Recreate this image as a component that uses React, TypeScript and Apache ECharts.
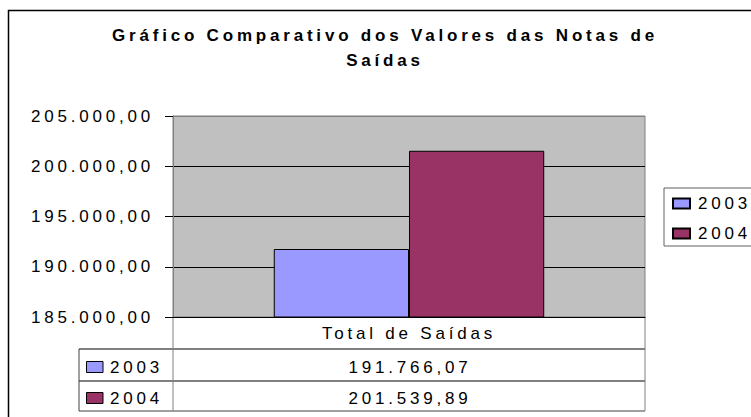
import React, { useEffect, useRef } from "react";
import * as echarts from "echarts";

const titleText = "Gráfico Comparativo dos Valores das Notas de\nSaídas";
const categories = ["Total de Saídas"];
const seriesNames = ["2003", "2004"];
const values2003 = [191766.07];
const values2004 = [201539.89];
const yMin = 185000;
const yMax = 205000;
const yInterval = 5000;
const seriesColors = ["#9999FF", "#993366"];

const FONT = '"Liberation Sans", Arial, sans-serif';

function fmtBR(v: number): string {
  const [i, d] = Math.abs(v).toFixed(2).split(".");
  return (v < 0 ? "-" : "") + i.replace(/\B(?=(\d{3})+(?!\d))/g, ".") + "," + d;
}

export default function App() {
  const ref = useRef<HTMLDivElement>(null);
  useEffect(() => {
    if (!ref.current) return;
    const chart = echarts.init(ref.current, undefined, { renderer: "svg" });

    const gridL = 173, gridR = 645, gridT = 116, gridB = 317;
    const rowY = [349, 381, 411];
    const tableL = 79;
    const catCenter = (gridL + gridR) / 2;
    const allValues = [values2003, values2004];

    const graphics: any[] = [
      // outer frame
      { type: "rect", shape: { x: 8.5, y: 10.5, width: 800, height: 500 }, style: { fill: "none", stroke: "#000", lineWidth: 1.5 }, silent: true },
      // table lines
      { type: "line", shape: { x1: tableL, y1: rowY[0], x2: gridR, y2: rowY[0] }, style: { stroke: "#000", lineWidth: 1 } },
      { type: "line", shape: { x1: tableL, y1: rowY[1], x2: gridR, y2: rowY[1] }, style: { stroke: "#000", lineWidth: 1 } },
      { type: "line", shape: { x1: tableL, y1: rowY[2], x2: gridR, y2: rowY[2] }, style: { stroke: "#404040", lineWidth: 1 } },
      { type: "line", shape: { x1: tableL, y1: rowY[0], x2: tableL, y2: rowY[2] }, style: { stroke: "#404040", lineWidth: 1 } },
      { type: "line", shape: { x1: gridL, y1: gridB, x2: gridL, y2: rowY[2] }, style: { stroke: "#808080", lineWidth: 1 } },
      { type: "line", shape: { x1: gridR, y1: gridB, x2: gridR, y2: rowY[2] }, style: { stroke: "#808080", lineWidth: 1 } },
    ];
    seriesNames.forEach((name, idx) => {
      const top = rowY[idx];
      const bottom = idx === 0 ? rowY[1] : rowY[2];
      const cy = (top + bottom) / 2 + 2;
      graphics.push({
        type: "rect",
        shape: { x: 86.5, y: cy - 5.5, width: 16.5, height: 11 },
        style: { fill: seriesColors[idx], stroke: "#000", lineWidth: 1 },
      });
      graphics.push({
        type: "text",
        x: 110,
        y: cy,
        style: { text: name, fill: "#000", fontSize: 17, fontFamily: FONT, align: "left", verticalAlign: "middle" },
      });
      graphics.push({
        type: "text",
        x: catCenter + 1,
        y: cy,
        style: { text: fmtBR(allValues[idx][0]), fill: "#000", fontSize: 17, fontFamily: FONT, align: "center", verticalAlign: "middle" },
      });
    });

    chart.setOption({
      animation: false,
      textStyle: { fontFamily: FONT },
      title: {
        text: titleText,
        left: 385,
        top: 23,
        padding: 0,
        textAlign: "center",
        textStyle: { fontSize: 17, fontWeight: "bold", color: "#000", lineHeight: 25, fontFamily: FONT },
      },
      legend: {
        orient: "vertical",
        left: 664,
        top: 188,
        padding: [7, 20, 4, 8],
        itemGap: 13,
        itemWidth: 17,
        itemHeight: 10,
        icon: "rect",
        borderColor: "#606060",
        borderWidth: 1,
        data: seriesNames,
        textStyle: { fontSize: 17, color: "#000", lineHeight: 17, padding: [0, 0, 0, 3], fontFamily: FONT },
      },
      grid: {
        left: gridL,
        top: gridT,
        right: 751 - gridR,
        bottom: 417 - gridB,
        show: true,
        backgroundColor: "#C0C0C0",
        borderColor: "#808080",
        borderWidth: 1,
      },
      xAxis: {
        type: "category",
        data: categories,
        axisLine: { show: true, lineStyle: { color: "#000", width: 1 } },
        axisTick: { show: false },
        axisLabel: { fontSize: 17, color: "#000", margin: 16, verticalAlign: "middle", fontFamily: FONT },
      },
      yAxis: {
        type: "value",
        min: yMin,
        max: yMax,
        interval: yInterval,
        axisLine: { show: true, lineStyle: { color: "#808080", width: 1 } },
        axisTick: { show: true, length: 8, lineStyle: { color: "#000", width: 1 } },
        axisLabel: { fontSize: 17, color: "#000", margin: 19, formatter: (v: number) => fmtBR(v), fontFamily: FONT },
        splitLine: { show: true, lineStyle: { color: ["#000", "#000", "#000", "#000", "#808080"], width: 1 } },
      },
      series: [
        {
          name: seriesNames[0],
          type: "bar",
          data: values2003,
          barGap: "0%",
          barCategoryGap: "42.7%",
          itemStyle: { color: seriesColors[0], borderColor: "#000", borderWidth: 1 },
        },
        {
          name: seriesNames[1],
          type: "bar",
          data: values2004,
          barGap: "0%",
          barCategoryGap: "42.7%",
          itemStyle: { color: seriesColors[1], borderColor: "#000", borderWidth: 1 },
        },
      ],
      graphic: graphics,
    });
    return () => chart.dispose();
  }, []);
  return (
    <div
      ref={ref}
      style={{ position: "fixed", left: 0, top: 0, width: 751, height: 417, background: "#fff", letterSpacing: "3.8px" }}
    />
  );
}
